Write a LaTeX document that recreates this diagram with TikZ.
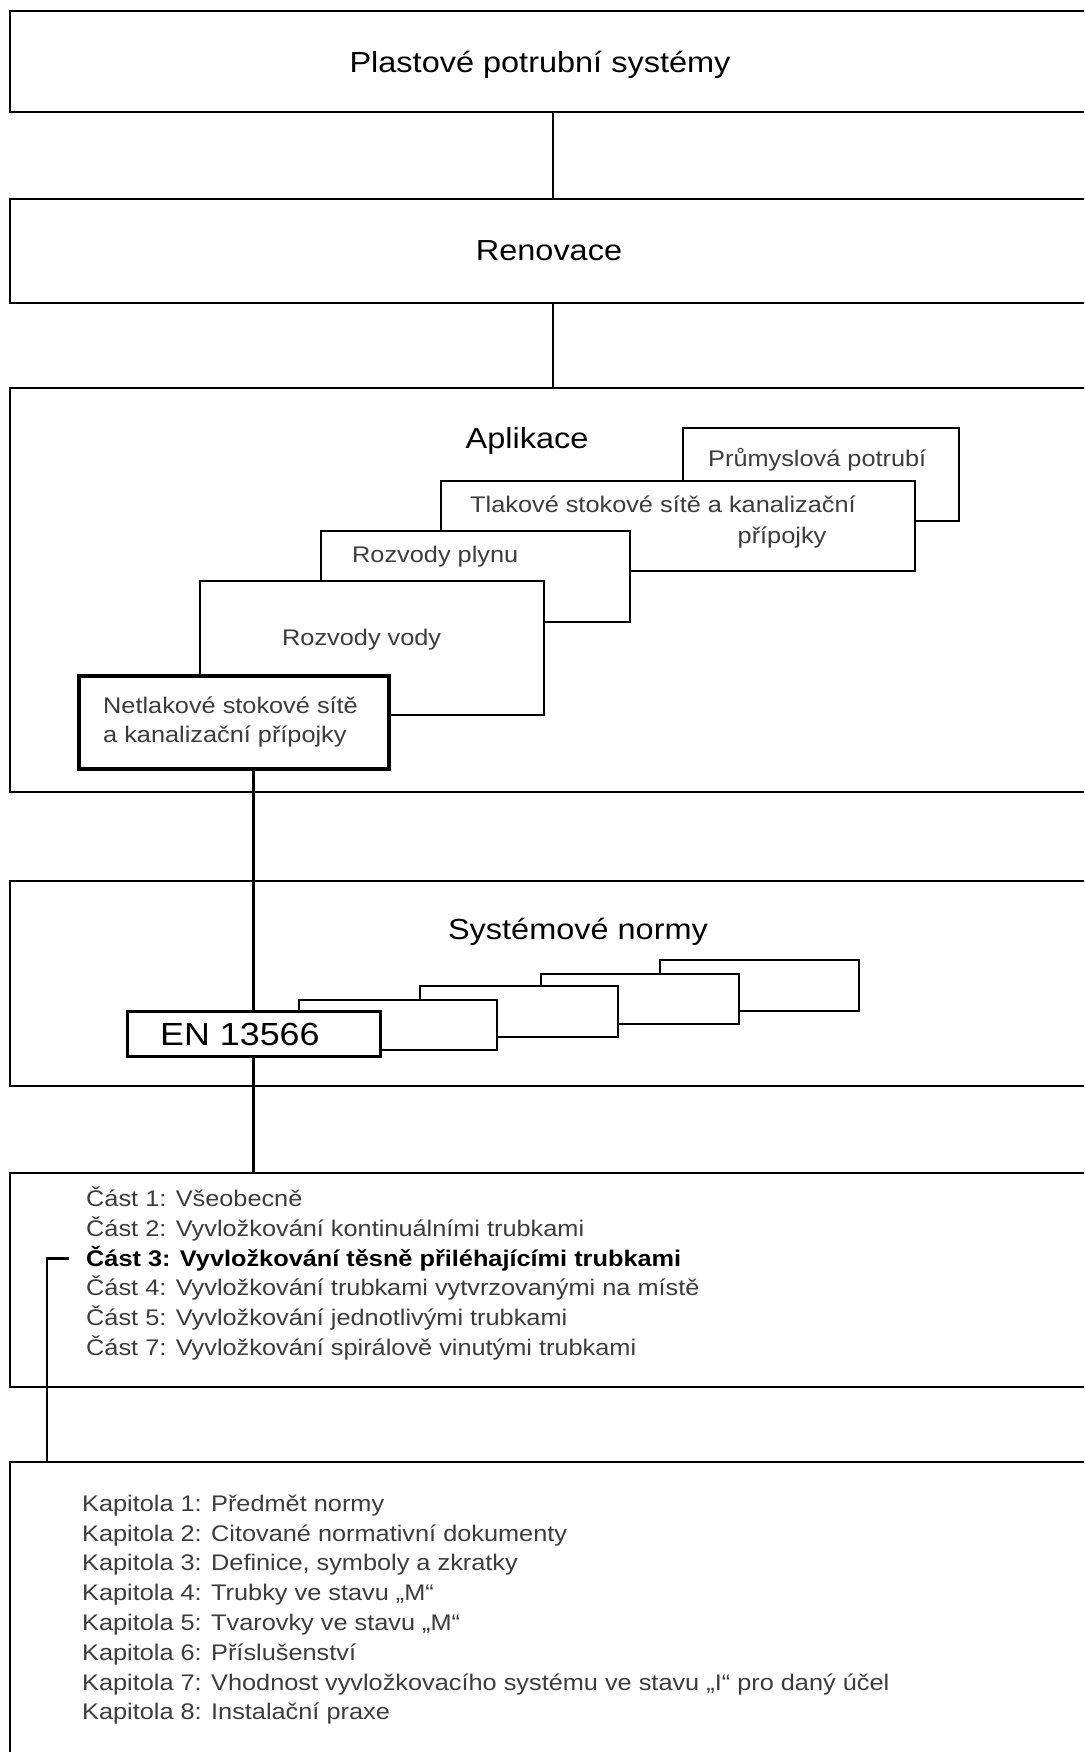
\documentclass[tikz,border=0pt]{standalone}
\usepackage{fontspec}
\setmainfont{Liberation Sans}[FakeStretch=1.12]
\usepackage{xcolor}
\usepackage{tikz}
\usetikzlibrary{positioning,backgrounds}
\definecolor{txtgrey}{HTML}{3C3C3C}

\begin{document}
\begin{tikzpicture}[
    x=1pt, y=-1pt,
    node distance=87pt,
    frame/.style={rectangle, draw, line width=2.6pt, minimum width=1086pt, inner sep=0pt, outer sep=0pt},
    card/.style={rectangle, draw, fill=white, line width=1.5pt, anchor=north west, inner sep=0pt, outer sep=0pt},
    keycard/.style={card, line width=4pt},
    title/.style={anchor=base, inner sep=0pt, font=\fontsize{29}{33}\selectfont},
    txt/.style={anchor=base west, inner sep=0pt, text=txtgrey, font=\fontsize{22.6}{27}\selectfont},
    conn/.style={line width=2.7pt}
]

\useasboundingbox (0,0) rectangle (1084,1752);
\clip (0,0) rectangle (1084,1752);

% levels
\node[frame, minimum height=101pt] (plast) at (553,61.5) {};
\node[frame, minimum height=104pt, below=of plast] (renov) {};
\node[frame, minimum height=404pt, below=85pt of renov] (apl) {};
\node[frame, minimum height=205pt, below=89pt of apl] (sysn) {};
\node[frame, minimum height=214pt, below=of sysn] (cast) {};
\node[frame, minimum height=400pt, below=75pt of cast] (kap) {};

\node[title] (plasttxt) at (540,72.5) {Plastové potrubní systémy};
\node[title] (renovtxt) at (549,261) {Renovace};
\node[title] (apltxt) at (527,448.5) {Aplikace};
\node[title] (sysntxt) at (578,939) {Systémové normy};

% applications
\node[card, minimum width=276pt, minimum height=93pt] (prum) at (683,428) {};
\node[card, minimum width=474pt, minimum height=90pt] (tlak) at (441,481) {};
\node[card, minimum width=309pt, minimum height=91pt] (plyn) at (321,531) {};
\node[card, minimum width=344pt, minimum height=134pt] (voda) at (200,581) {};
\node[keycard, minimum width=310pt, minimum height=93pt] (netl) at (79,676) {};

\node[txt] (prumtxt) at (708,466) {Průmyslová potrubí};
\node[txt] (tlaktxt) at (470,512) {Tlakové stokové sítě a kanalizační};
\node[txt, anchor=base] (tlaktxtb) at (782,543) {přípojky};
\node[txt] (plyntxt) at (352,562) {Rozvody plynu};
\node[txt] (vodatxt) at (282,645) {Rozvody vody};
\node[txt] (netltxt) at (103,713) {Netlakové stokové sítě};
\node[txt] (netltxtb) at (103,742) {a kanalizační přípojky};

% standards
\node[card, minimum width=199pt, minimum height=51pt] (norm5) at (660,960) {};
\node[card, minimum width=198pt, minimum height=50pt] (norm4) at (541,974) {};
\node[card, minimum width=198pt, minimum height=51pt] (norm3) at (420,986) {};
\node[card, minimum width=198pt, minimum height=50pt] (norm2) at (299,1000) {};
\node[keycard, line width=3pt, minimum width=253pt, minimum height=45pt] (en) at (127,1011) {};
\node[txt, text=black, font=\fontsize{32}{36}\selectfont] (entxt) at (160,1045) {EN 13566};

% parts
\node[txt] (c1) at (86,1206) {Část 1: Všeobecně};
\node[txt] (c2) at (86,1236) {Část 2: Vyvložkování kontinuálními trubkami};
\node[txt, text=black, font=\fontsize{22.6}{27}\selectfont\bfseries] (c3) at (86,1266) {Část 3: Vyvložkování těsně přiléhajícími trubkami};
\node[txt] (c4) at (86,1295.5) {Část 4: Vyvložkování trubkami vytvrzovanými na místě};
\node[txt] (c5) at (86,1325) {Část 5: Vyvložkování jednotlivými trubkami};
\node[txt] (c7) at (86,1355) {Část 7: Vyvložkování spirálově vinutými trubkami};

% chapters
\node[txt] (k1) at (82,1511) {Kapitola 1: Předmět normy};
\node[txt] (k2) at (82,1541) {Kapitola 2: Citované normativní dokumenty};
\node[txt] (k3) at (82,1570.5) {Kapitola 3: Definice, symboly a zkratky};
\node[txt] (k4) at (82,1600.5) {Kapitola 4: Trubky ve stavu „M“};
\node[txt] (k5) at (82,1630) {Kapitola 5: Tvarovky ve stavu „M“};
\node[txt] (k6) at (82,1660) {Kapitola 6: Příslušenství};
\node[txt] (k7) at (82,1690) {Kapitola 7: Vhodnost vyvložkovacího systému ve stavu „I“ pro daný účel};
\node[txt] (k8) at (82,1719.5) {Kapitola 8: Instalační praxe};

% links
\begin{scope}[on background layer]
\draw[conn] (plast) -- (renov);
\draw[conn] (renov) -- (apl);
\draw[conn] (en |- netl.south) -- (en |- cast.north);
\end{scope}
\draw[conn] ([xshift=-17pt]c3.west) -| ([xshift=37pt]kap.north west);

\end{tikzpicture}
\end{document}
